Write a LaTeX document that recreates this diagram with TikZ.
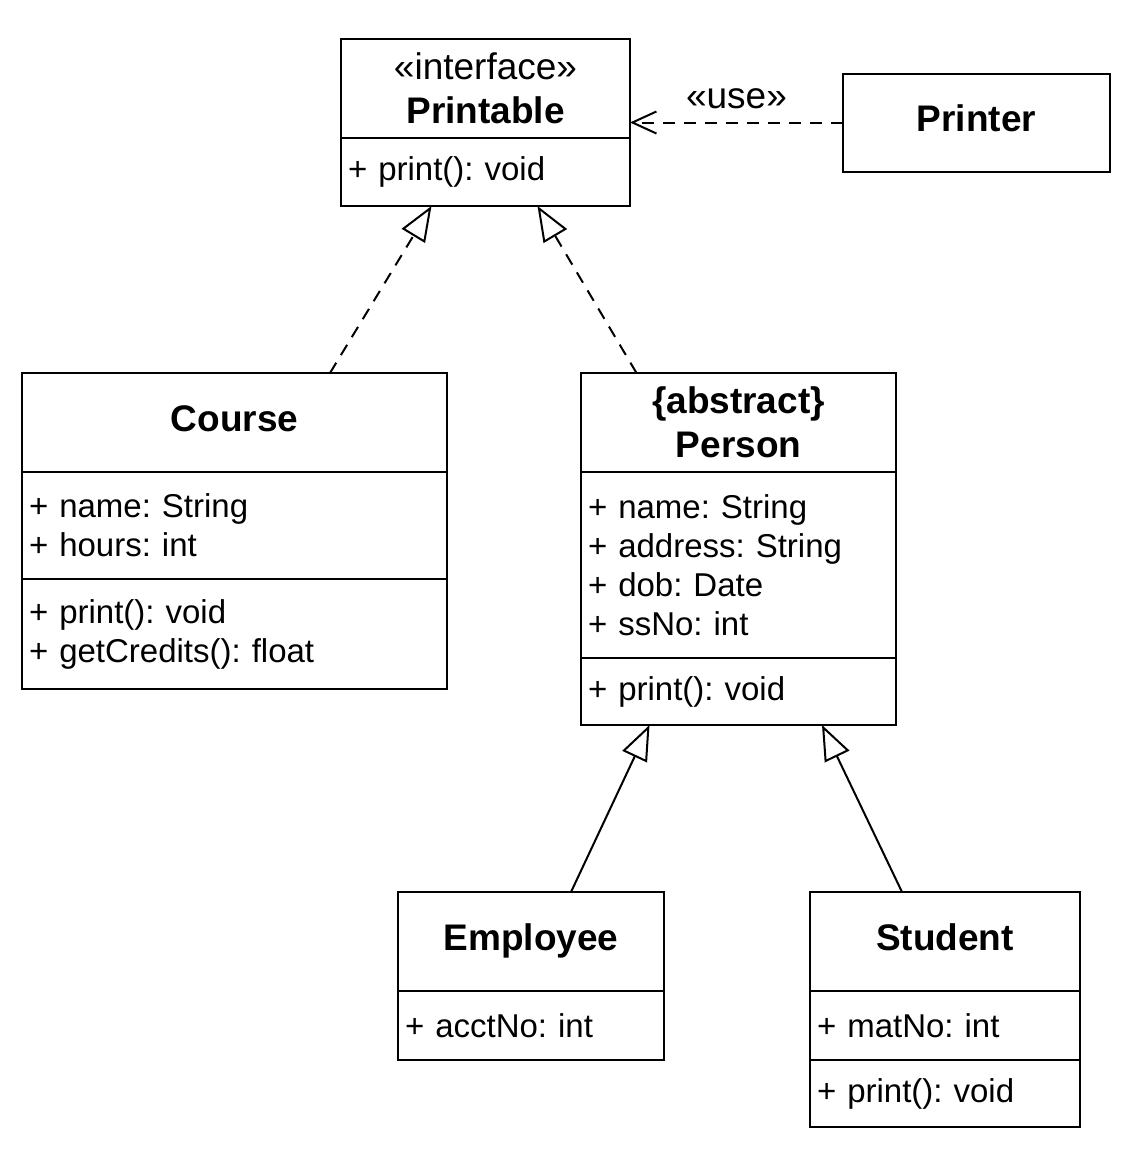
\documentclass[tikz,border=0pt]{standalone}
\usepackage{fontspec}
\setmainfont{Liberation Sans}
\usetikzlibrary{positioning,arrows.meta}
\frenchspacing

\begin{document}
\begin{tikzpicture}[x=1pt,y=-1pt,on grid,line width=2pt,
    hdr/.style={draw,rectangle,align=center,inner sep=0pt,outer sep=0pt,font=\fontsize{37}{44}\selectfont},
    hdr1/.style={hdr,text depth=8pt},
    mem/.style={draw,rectangle,align=left,inner xsep=7pt,inner ysep=0pt,outer sep=0pt,anchor=north,font=\fontsize{33}{39}\selectfont},
    impl/.style={dash pattern=on 12pt off 9pt,-{Triangle[open,length=35pt,width=27pt]}},
    gen/.style={-{Triangle[open,length=35pt,width=27pt]}},
    dep/.style={dash pattern=on 12pt off 9pt,-{Straight Barb[length=24pt,width=22pt]}}]
      \useasboundingbox (0,0) rectangle (1130,1162);
      \node[hdr,minimum width=289pt,minimum height=99pt] (p0) at (485.5,88.5) {«interface»\\\textbf{Printable}};
      \node[mem,minimum width=289pt,minimum height=68pt,text width=275pt] (p1) at (p0.south) {+ print(): void};
      \node[hdr1,minimum width=267pt,minimum height=98pt,below right=34pt and 491pt of p0] (pr) {\textbf{Printer}};
      \node[hdr1,minimum width=425pt,minimum height=99pt,below left=334pt and 251pt of p0] (c0) {\textbf{Course}};
      \node[mem,minimum width=425pt,minimum height=107pt,text width=411pt] (c1) at (c0.south) {+ name: String\\+ hours: int};
      \node[mem,minimum width=425pt,minimum height=110pt,text width=411pt] (c2) at (c1.south) {+ print(): void\\+ getCredits(): float};
      \node[hdr,minimum width=315pt,minimum height=99pt,right=504pt of c0] (pe0) {\textbf{\{abstract\}}\\\textbf{Person}};
      \node[mem,minimum width=315pt,minimum height=186pt,text width=301pt] (pe1) at (pe0.south) {+ name: String\\+ address: String\\+ dob: Date\\+ ssNo: int};
      \node[mem,minimum width=315pt,minimum height=67pt,text width=301pt] (pe2) at (pe1.south) {+ print(): void};
      \node[hdr1,minimum width=266pt,minimum height=99pt,below left=519pt and 207.5pt of pe0] (e0) {\textbf{Employee}};
      \node[mem,minimum width=266pt,minimum height=69pt,text width=252pt] (e1) at (e0.south) {+ acctNo: int};
      \node[hdr1,minimum width=270pt,minimum height=99pt,right=414pt of e0] (st0) {\textbf{Student}};
      \node[mem,minimum width=270pt,minimum height=69pt,text width=256pt] (st1) at (st0.south) {+ matNo: int};
      \node[mem,minimum width=270pt,minimum height=67pt,text width=256pt] (st2) at (st1.south) {+ print(): void};
      \path
      (pr.west) edge[dep] node[above=9pt,font=\fontsize{37}{44}\selectfont] {«use»} ([yshift=-34pt]p0.east)
      ([xshift=95.5pt]c0.north) edge[impl] ([xshift=-54pt]p1.south)
      ([xshift=-102pt]pe0.north) edge[impl] ([xshift=52pt]p1.south)
      ([xshift=40pt]e0.north) edge[gen] ([xshift=-89pt]pe2.south)
      ([xshift=-43pt]st0.north) edge[gen] ([xshift=83.5pt]pe2.south)
      ;
    \end{tikzpicture}
\end{document}
